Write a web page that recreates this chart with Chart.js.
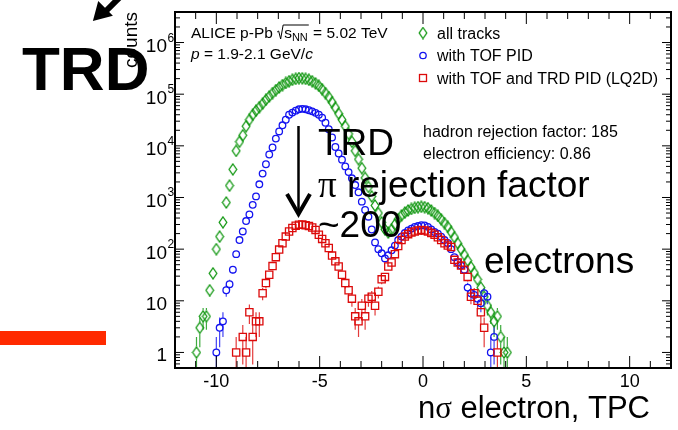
<!DOCTYPE html>
<html>
<head>
<meta charset="utf-8">
<script src="https://cdn.jsdelivr.net/npm/chart.js@4.4.1/dist/chart.umd.min.js"></script>
<style>
  html, body { margin: 0; padding: 0; background: #fff; }
</style>
</head>
<body>
<canvas id="c" width="678" height="430"></canvas>
<script>
// nσ(TPC) bin centres and counts per bin
const nsigma = [
  -10.96, -10.80, -10.64, -10.48, -10.32, -10.16, -10.00, -9.84, -9.68, -9.52,
  -9.36, -9.20, -9.04, -8.88, -8.72, -8.56, -8.40, -8.24, -8.08, -7.92,
  -7.76, -7.60, -7.44, -7.28, -7.12, -6.96, -6.80, -6.64, -6.48, -6.32,
  -6.16, -6.00, -5.84, -5.68, -5.52, -5.36, -5.20, -5.04, -4.88, -4.72,
  -4.56, -4.40, -4.24, -4.08, -3.92, -3.76, -3.60, -3.44, -3.28, -3.12,
  -2.96, -2.80, -2.64, -2.48, -2.32, -2.16, -2.00, -1.84, -1.68, -1.52,
  -1.36, -1.20, -1.04, -0.88, -0.72, -0.56, -0.40, -0.24, -0.08, 0.08,
  0.24, 0.40, 0.56, 0.72, 0.88, 1.04, 1.20, 1.36, 1.52, 1.68,
  1.84, 2.00, 2.16, 2.32, 2.48, 2.64, 2.80, 2.96, 3.12, 3.28,
  3.44, 3.60, 3.76, 3.92, 4.08
]
const allTracks = [
  1, 3, 5, 5, 16, 34, 100, 175, 330, 800,
  1700, 3500, 8000, 12000, 16000, 24000, 32000, 40000, 48000, 56000,
  66000, 78000, 90000, 105000, 120000, 135000, 150000, 165000, 178000, 190000,
  198000, 205000, 203000, 198000, 190000, 178000, 162000, 145000, 125000, 105000,
  88000, 70000, 55000, 42000, 32000, 24000, 17000, 12000, 8000, 5500,
  3700, 2400, 1600, 1050, 700, 500, 330, 240, 210, 240,
  300, 380, 450, 510, 560, 600, 630, 650, 660, 650,
  620, 560, 500, 440, 380, 320, 270, 215, 170, 130,
  100, 78, 60, 45, 35, 26, 18, 12, 8, 6,
  4, 5, 2, 1, 1
]
const withTOF = [
  null, null, null, null, null, null, 1, 3, 4, 16,
  21, 40, 80, 150, 220, 350, 470, 720, 1050, 1800,
  2900, 4400, 6800, 9300, 13800, 19000, 25000, 32000, 40000, 44000,
  48000, 51000, 52000, 51000, 49000, 46500, 43500, 40000, 35000, 28000,
  21000, 14500, 9500, 7100, 5400, 4000, 3100, 2350, 1740, 1260,
  830, 575, 425, 240, 135, 100, 83, 66, 76, 95,
  117, 150, 175, 205, 230, 250, 270, 280, 290, 288,
  270, 240, 215, 200, 175, 150, 132, 100, 70, 56,
  48, 40, 18, 14, 13, 11, 9, 14, 12, 1,
  2, null, null, null, null
]
const withTOFTRD = [
  null, null, null, null, null, null, null, null, null, null,
  null, null, 1, null, 2, 1, 6, 2, 4, 4,
  14, 22, 32, 47, 70, 98, 130, 175, 220, 256,
  285, 298, 300, 290, 280, 262, 236, 190, 158, 130,
  105, 75, 58, 46, 32, 22, 16, 11, 5, 4,
  8, 5, 11, 12, 8, 15, 26, 29, 46, 55,
  80, 115, 150, 175, 195, 210, 220, 230, 236, 230,
  220, 205, 190, 170, 150, 130, 118, 110, 62, 55,
  48, 40, 29, 12, 14, 10, 6, 3, null, null,
  null, 1, null, null, null
]
const seriesNames = ['all tracks', 'with TOF PID', 'with TOF and TRD PID (LQ2D)']
const xTicks = [-10, -5, 0, 5, 10]
const yDecades = [1, 10, 100, 1000, 10000, 100000, 1000000]

const GREEN = '#0e960e', BLUE = '#1414f0', RED = '#dc0a0a'
const SANS = '"Liberation Sans", Arial, sans-serif'
const SERIF = '"Liberation Serif", "Times New Roman", serif'
const font = (s, st = '') => `${st} ${s}px ${SANS}`

function diamondMarker(color) {
  const c = document.createElement('canvas')
  c.width = 10; c.height = 13
  const g = c.getContext('2d')
  g.strokeStyle = color; g.lineWidth = 1.3
  g.beginPath(); g.moveTo(5, 1); g.lineTo(8.8, 6.5); g.lineTo(5, 12); g.lineTo(1.2, 6.5); g.closePath(); g.stroke()
  return c
}
const diamond = diamondMarker(GREEN)

const toPoints = (vals) => nsigma.map((x, i) => ({ x, y: vals[i] })).filter((p) => p.y != null)

// poisson error bars, drawn under the markers
const errorBars = {
  id: 'errorBars',
  beforeDatasetsDraw(chart) {
    const { ctx, chartArea: a, scales: { y } } = chart
    ctx.save()
    ctx.beginPath(); ctx.rect(a.left, a.top, a.right - a.left, a.bottom - a.top); ctx.clip()
    chart.data.datasets.forEach((ds, di) => {
      const meta = chart.getDatasetMeta(di)
      ctx.strokeStyle = ds.borderColor; ctx.globalAlpha = 0.8; ctx.lineWidth = 1.2
      meta.data.forEach((el, i) => {
        const v = ds.data[i].y
        const e = Math.sqrt(v)
        const top = y.getPixelForValue(v + e)
        const bot = v - e > 0 ? y.getPixelForValue(v - e) : a.bottom + 5
        const gap = ds.gap
        ctx.beginPath()
        if (el.y - top > gap) { ctx.moveTo(el.x, top); ctx.lineTo(el.x, el.y - gap) }
        if (bot - el.y > gap) { ctx.moveTo(el.x, el.y + gap); ctx.lineTo(el.x, bot) }
        ctx.stroke()
      })
    })
    ctx.restore()
  }
}

const frame = {
  id: 'frame',
  afterDraw(chart) {
    const { ctx, chartArea: a, scales: { x, y } } = chart
    ctx.save()
    ctx.fillStyle = '#000'; ctx.strokeStyle = '#000'
    ctx.lineWidth = 2
    ctx.strokeRect(a.left, a.top, a.right - a.left, a.bottom - a.top)

    // x ticks, bottom and top
    ctx.lineWidth = 1
    ctx.beginPath()
    for (let v = Math.ceil(x.min); v <= x.max; v++) {
      const px = x.getPixelForValue(v)
      const len = v % 5 === 0 ? 12 : 7
      ctx.moveTo(px, a.bottom); ctx.lineTo(px, a.bottom - len)
      ctx.moveTo(px, a.top); ctx.lineTo(px, a.top + len)
    }
    // y ticks, left and right
    for (let k = -1; k <= 6; k++) {
      for (let m = 1; m <= 9; m++) {
        const v = m * Math.pow(10, k)
        if (v < y.min || v > y.max) continue
        const py = y.getPixelForValue(v)
        const len = m === 1 ? 9 : 5
        ctx.moveTo(a.left, py); ctx.lineTo(a.left + len, py)
        ctx.moveTo(a.right, py); ctx.lineTo(a.right - len, py)
      }
    }
    ctx.stroke()

    // x tick labels
    ctx.font = font(18); ctx.textAlign = 'center'; ctx.textBaseline = 'alphabetic'
    xTicks.forEach((v) => ctx.fillText(String(v), x.getPixelForValue(v), 387))

    // y tick labels
    yDecades.forEach((v) => {
      const py = y.getPixelForValue(v)
      const exp = Math.round(Math.log10(v))
      ctx.textAlign = 'right'
      ctx.font = font(19)
      if (exp <= 1) { ctx.fillText(String(v), 167, py + 9); return }
      ctx.fillText('10', 167, py + 9.5)
      ctx.textAlign = 'left'
      ctx.font = font(12)
      ctx.fillText(String(exp), 167.5, py - 1)
    })

    // axis titles
    ctx.save()
    ctx.translate(137, a.top); ctx.rotate(-Math.PI / 2)
    ctx.font = font(19); ctx.textAlign = 'right'
    ctx.fillText('counts', 0, 0)
    ctx.restore()

    ctx.textAlign = 'left'
    ctx.font = font(31)
    const tRest = ' electron, TPC'
    const wN = ctx.measureText('n').width, wRest = ctx.measureText(tRest).width
    ctx.font = `31px ${SERIF}`
    const wS = ctx.measureText('σ').width
    let tx = 650 - (wN + wS + wRest)
    ctx.font = font(31); ctx.fillText('n', tx, 418); tx += wN
    ctx.font = `31px ${SERIF}`; ctx.fillText('σ', tx, 418); tx += wS
    ctx.font = font(31); ctx.fillText(tRest, tx, 418)

    // header text
    ctx.font = font(15.5)
    tx = 191
    ctx.fillText('ALICE p-Pb ', tx, 38); tx += ctx.measureText('ALICE p-Pb ').width
    const sW = ctx.measureText('s').width
    ctx.font = font(11); const nnW = ctx.measureText('NN').width
    ctx.lineWidth = 1
    ctx.beginPath()
    ctx.moveTo(tx, 32); ctx.lineTo(tx + 1.5, 31); ctx.lineTo(tx + 3.5, 39); ctx.lineTo(tx + 6, 25)
    ctx.lineTo(tx + 7 + sW + nnW + 1, 25); ctx.stroke()
    tx += 7
    ctx.font = font(15.5); ctx.fillText('s', tx, 38); tx += sW
    ctx.font = font(11); ctx.fillText('NN', tx, 41); tx += nnW
    ctx.font = font(15.5); ctx.fillText(' = 5.02 TeV', tx + 1, 38)

    tx = 191
    ctx.font = font(15.5, 'italic'); ctx.fillText('p', tx, 59); tx += ctx.measureText('p').width
    ctx.font = font(15.5); ctx.fillText(' = 1.9-2.1 GeV/', tx, 59); tx += ctx.measureText(' = 1.9-2.1 GeV/').width
    ctx.font = font(15.5, 'italic'); ctx.fillText('c', tx, 59)

    // legend
    const ly = [33, 55.5, 78]
    ctx.drawImage(diamond, 423 - 5, ly[0] - 6.5)
    ctx.lineWidth = 1.3
    ctx.strokeStyle = BLUE; ctx.beginPath(); ctx.arc(423, ly[1], 3.2, 0, Math.PI * 2); ctx.stroke()
    ctx.strokeStyle = RED; ctx.strokeRect(419.5, ly[2] - 3.5, 7, 7)
    ctx.font = font(16)
    seriesNames.forEach((s, i) => ctx.fillText(s, 437, ly[i] + 5.5))

    ctx.font = font(16)
    ctx.fillText('hadron rejection factor: 185', 423, 137)
    ctx.fillText('electron efficiency: 0.86', 423, 158.5)

    // slide annotations
    ctx.strokeStyle = '#000'
    ctx.lineWidth = 2.5
    ctx.beginPath(); ctx.moveTo(298.5, 126); ctx.lineTo(298.5, 213); ctx.stroke()
    ctx.lineWidth = 4
    ctx.beginPath(); ctx.moveTo(287, 194); ctx.lineTo(298.5, 214); ctx.lineTo(310, 194); ctx.stroke()

    ctx.font = font(37)
    ctx.fillText('TRD', 318, 155)
    ctx.font = `37px ${SERIF}`; ctx.fillText('π', 318, 197)
    const wPi = ctx.measureText('π').width
    ctx.font = font(37); ctx.fillText(' rejection factor', 318 + wPi, 197)
    ctx.fillText('~200', 318, 237)
    ctx.fillText('electrons', 484, 273)

    ctx.font = font(62, 'bold')
    ctx.fillText('TRD', 22, 90)

    // cut-off arrow at the top left
    ctx.lineWidth = 6
    ctx.beginPath(); ctx.moveTo(125, -8); ctx.lineTo(104, 13); ctx.stroke()
    ctx.beginPath(); ctx.moveTo(95, 19); ctx.lineTo(99, 4); ctx.lineTo(110, 15); ctx.closePath(); ctx.fill()
    ctx.lineWidth = 3
    ctx.beginPath(); ctx.moveTo(95, 19); ctx.lineTo(99, 4); ctx.lineTo(110, 15); ctx.closePath(); ctx.stroke()

    ctx.fillStyle = '#ff2a00'
    ctx.fillRect(0, 331, 106, 14)
    ctx.restore()
  }
}

new Chart(document.getElementById('c'), {
  type: 'scatter',
  data: {
    datasets: [
      { label: seriesNames[0], data: toPoints(allTracks), pointStyle: diamond, pointRadius: 5, borderColor: GREEN, backgroundColor: 'transparent', gap: 6, order: 3 },
      { label: seriesNames[1], data: toPoints(withTOF), pointStyle: 'circle', pointRadius: 3.3, pointBorderWidth: 1.3, borderColor: BLUE, backgroundColor: 'transparent', gap: 3.3, order: 2 },
      { label: seriesNames[2], data: toPoints(withTOFTRD), pointStyle: 'rect', pointRadius: 5.1, pointBorderWidth: 1.3, borderColor: RED, backgroundColor: 'transparent', gap: 3.6, order: 1 },
    ],
  },
  options: {
    responsive: false,
    animation: false,
    devicePixelRatio: 1,
    layout: { padding: { left: 175, top: 12, right: 7, bottom: 62 } },
    plugins: { legend: { display: false }, tooltip: { enabled: false } },
    scales: {
      x: { type: 'linear', min: -12, max: 12, display: false },
      y: { type: 'logarithmic', min: 0.5, max: 3.9e6, display: false },
    },
  },
  plugins: [errorBars, frame],
})
</script>
</body>
</html>
